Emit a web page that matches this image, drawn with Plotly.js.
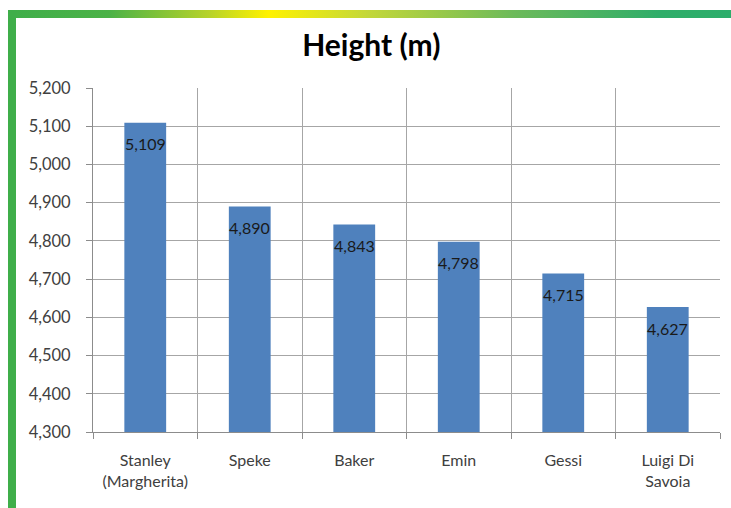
<!DOCTYPE html>
<html>
<head>
<meta charset="utf-8">
<script src="https://cdn.plot.ly/plotly-3.0.1.min.js"></script>
<style>
  html, body { margin: 0; padding: 0; background: #fff; }
  #wrap { position: relative; width: 731px; height: 508px; overflow: hidden; }
  #chart { position: absolute; left: 0; top: 0; width: 731px; height: 508px; }
  .frame-top {
    position: absolute; left: 8px; top: 10px; width: 723px; height: 8px;
    background: linear-gradient(to right, #3fae4a 0%, #4bb247 14%, #b8d32a 28%, #fff200 36%, #c2d73a 50%, #6cba5a 70%, #2fad69 90%, #2cad6b 100%);
    z-index: 2;
  }
  .frame-left {
    position: absolute; left: 8px; top: 10px; width: 8px; height: 498px;
    background: #3fae4a; z-index: 2;
  }
</style>
</head>
<body>
<div id="wrap">
  <div id="chart"></div>
  <div class="frame-top"></div>
  <div class="frame-left"></div>
</div>
<script>
// Ruwenzori peaks and their heights in metres
const peaks = ["Stanley<br>(Margherita)", "Speke", "Baker", "Emin", "Gessi", "Luigi Di<br>Savoia"];
const heights = [5109, 4890, 4843, 4798, 4715, 4627];
const yTicks = [4300, 4400, 4500, 4600, 4700, 4800, 4900, 5000, 5100, 5200];

const fontFamily = "Lato, 'Open Sans', 'Liberation Sans', sans-serif";

const bars = {
  type: "bar",
  x: peaks,
  y: heights,
  width: 0.4,
  marker: { color: "#4f81bd" },
  hoverinfo: "skip"
};

// value labels just under the top of each bar
const labels = peaks.map((p, i) => ({
  x: p,
  y: heights[i],
  xref: "x",
  yref: "y",
  text: heights[i].toLocaleString("en-US"),
  showarrow: false,
  yanchor: "middle",
  yshift: -21,
  font: { family: fontFamily, size: 16, color: "#1a1a1a" }
}));

const layout = {
  width: 731,
  height: 508,
  margin: { l: 93, r: 11, t: 88, b: 76 },
  paper_bgcolor: "#ffffff",
  plot_bgcolor: "#ffffff",
  showlegend: false,
  title: {
    text: "<b>Height (m)</b>",
    x: 0.508,
    xanchor: "center",
    y: 0.91,
    yanchor: "middle",
    font: { family: fontFamily, size: 30, color: "#000000" }
  },
  xaxis: {
    type: "category",
    tickson: "boundaries",
    ticks: "outside",
    ticklen: 6,
    tickcolor: "#8c8c8c",
    ticklabelstandoff: 14,
    showgrid: true,
    gridcolor: "#a6a6a6",
    gridwidth: 1,
    showline: true,
    linecolor: "#8c8c8c",
    linewidth: 1,
    tickfont: { family: fontFamily, size: 16, color: "#404040" },
    fixedrange: true
  },
  yaxis: {
    range: [4300, 5200],
    tickvals: yTicks,
    tickformat: ",",
    ticks: "outside",
    ticklen: 6,
    tickcolor: "#8c8c8c",
    ticklabelstandoff: 12,
    showgrid: true,
    gridcolor: "#a6a6a6",
    gridwidth: 1,
    showline: true,
    linecolor: "#8c8c8c",
    linewidth: 1,
    zeroline: false,
    tickfont: { family: fontFamily, size: 16.5, color: "#404040" },
    fixedrange: true
  },
  annotations: labels
};

Plotly.newPlot("chart", [bars], layout, { displayModeBar: false, staticPlot: true });
</script>
</body>
</html>
